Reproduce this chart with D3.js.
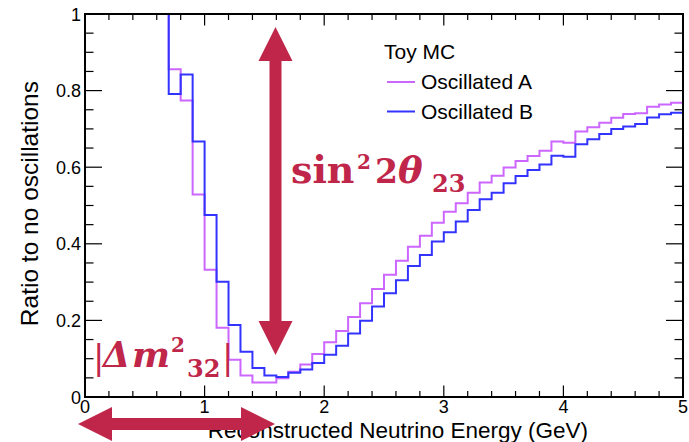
<!DOCTYPE html>
<html>
<head>
<meta charset="utf-8">
<script src="https://cdn.jsdelivr.net/npm/d3@7/dist/d3.min.js"></script>
<style>
  html, body { margin: 0; padding: 0; background: #fff; }
  svg { display: block; }
</style>
</head>
<body>
<svg id="chart" width="689" height="442"></svg>
<script>
// ---- data ----
const binWidth = 0.1;
const nBins = 50;
const xTicks = [0, 1, 2, 3, 4, 5];
const yTicks = [0, 0.2, 0.4, 0.6, 0.8, 1];
const seriesNames = ["Oscillated A", "Oscillated B"];
const legendHeader = "Toy MC";
// Ratio to no oscillations per 0.1 GeV bin (bins 0-6 exceed the frame)
const oscA = [1.60, 1.50, 1.40, 1.35, 1.30, 1.20, 1.10, 0.856, 0.774, 0.529,
              0.332, 0.181, 0.097, 0.056, 0.038, 0.038, 0.049, 0.066, 0.085, 0.112,
              0.143, 0.172, 0.209, 0.245, 0.282, 0.319, 0.356, 0.392, 0.421, 0.455,
              0.484, 0.506, 0.533, 0.560, 0.578, 0.599, 0.616, 0.629, 0.643, 0.667,
              0.664, 0.693, 0.704, 0.716, 0.729, 0.739, 0.741, 0.758, 0.764, 0.768];
const oscB = [1.60, 1.50, 1.40, 1.35, 1.30, 1.20, 1.10, 0.791, 0.842, 0.667,
              0.475, 0.301, 0.188, 0.118, 0.076, 0.056, 0.052, 0.063, 0.072, 0.089,
              0.110, 0.134, 0.166, 0.199, 0.236, 0.271, 0.305, 0.342, 0.371, 0.406,
              0.430, 0.458, 0.488, 0.516, 0.533, 0.558, 0.577, 0.593, 0.607, 0.630,
              0.627, 0.660, 0.673, 0.687, 0.700, 0.706, 0.713, 0.730, 0.738, 0.742];
const colors = ["#cc66ff", "#3333ff"];
const annotColor = "#bf2649";

// ---- layout ----
const svg = d3.select("#chart");
const L = 85, R = 683, T = 14, B = 397;
const x = d3.scaleLinear().domain([0, 5]).range([L, R]);
const y = d3.scaleLinear().domain([0, 1]).range([B, T]).clamp(true);
const sans = "'Liberation Sans', Arial, Helvetica, sans-serif";
const serif = "'DejaVu Serif', serif";

svg.append("defs").append("clipPath").attr("id", "clip")
  .append("rect").attr("x", L).attr("y", T - 1).attr("width", R - L).attr("height", B - T + 1);

// ---- histograms ----
function stepPoints(vals) {
  const pts = vals.map((v, i) => [i * binWidth, v]);
  pts.push([nBins * binWidth, vals[vals.length - 1]]);
  return pts;
}
const line = d3.line().x(d => x(d[0])).y(d => y(d[1])).curve(d3.curveStepAfter);
const gH = svg.append("g").attr("clip-path", "url(#clip)");
[oscA, oscB].forEach((vals, k) => {
  gH.append("path").attr("d", line(stepPoints(vals)))
    .attr("fill", "none").attr("stroke", colors[k]).attr("stroke-width", 2);
});

// ---- axes (ROOT style, ticks inside on all four sides) ----
const xMinor = d3.range(0, 5.0001, 0.2);
const yMinor = d3.range(0, 1.0001, 0.05);
const gT = svg.append("g").attr("stroke", "#000").attr("stroke-width", 1.2);
xMinor.forEach(v => {
  const major = Math.abs(v - Math.round(v)) < 1e-6;
  const len = major ? 11.5 : 6;
  gT.append("line").attr("x1", x(v)).attr("x2", x(v)).attr("y1", B).attr("y2", B - len);
  gT.append("line").attr("x1", x(v)).attr("x2", x(v)).attr("y1", T).attr("y2", T + len);
});
yMinor.forEach(v => {
  const major = Math.abs(v * 5 - Math.round(v * 5)) < 1e-6;
  const len = major ? 17 : 8.5;
  gT.append("line").attr("y1", y(v)).attr("y2", y(v)).attr("x1", L).attr("x2", L + len);
  gT.append("line").attr("y1", y(v)).attr("y2", y(v)).attr("x1", R).attr("x2", R - len);
});
svg.append("rect").attr("x", L).attr("y", T).attr("width", R - L).attr("height", B - T)
  .attr("fill", "none").attr("stroke", "#000").attr("stroke-width", 2);

const fmt = d3.format("~g");
svg.append("g").selectAll("text").data(yTicks).join("text")
  .attr("x", L - 4).attr("y", d => y(d) + 6.5)
  .attr("text-anchor", "end").attr("font-family", sans).attr("font-size", 18)
  .text(d => fmt(d));
svg.append("g").selectAll("text").data(xTicks).join("text")
  .attr("x", d => x(d)).attr("y", 412.5)
  .attr("text-anchor", "middle").attr("font-family", sans).attr("font-size", 18)
  .text(d => fmt(d));

svg.append("text").attr("x", 588).attr("y", 438).attr("text-anchor", "end")
  .attr("font-family", sans).attr("font-size", 22.5)
  .text("Reconstructed Neutrino Energy (GeV)");
svg.append("text").attr("transform", "translate(38,81) rotate(-90)").attr("text-anchor", "end")
  .attr("font-family", sans).attr("font-size", 24.5)
  .text("Ratio to no oscillations");

// ---- legend ----
const lg = svg.append("g").attr("font-family", sans).attr("font-size", 21);
lg.append("text").attr("x", 384).attr("y", 59).text(legendHeader);
seriesNames.forEach((n, k) => {
  const yy = 82 + k * 29.5;
  lg.append("line").attr("x1", 387).attr("x2", 415).attr("y1", yy).attr("y2", yy)
    .attr("stroke", colors[k]).attr("stroke-width", 2);
  lg.append("text").attr("x", 421).attr("y", yy + 7).text(n);
});

// ---- annotations ----
function doubleArrow(x1, y1, x2, y2, sw, hw, hl) {
  const dx = x2 - x1, dy = y2 - y1, len = Math.hypot(dx, dy);
  const ux = dx / len, uy = dy / len, nx = -uy, ny = ux;
  const p = (a, b) => [x1 + ux * a + nx * b, y1 + uy * a + ny * b];
  const pts = [p(0, 0), p(hl, hw / 2), p(hl, sw / 2), p(len - hl, sw / 2), p(len - hl, hw / 2),
               p(len, 0), p(len - hl, -hw / 2), p(len - hl, -sw / 2), p(hl, -sw / 2), p(hl, -hw / 2)];
  return "M" + pts.map(q => q.join(",")).join("L") + "Z";
}
const ga = svg.append("g").attr("fill", annotColor);
ga.append("path").attr("d", doubleArrow(275.5, 27, 275.5, 355, 12, 34, 34));
ga.append("path").attr("d", doubleArrow(78, 424, 275, 424, 12, 34, 34));

const gt = svg.append("g").attr("fill", annotColor).attr("font-family", serif).attr("font-weight", "bold");
gt.append("text").attr("x", 291).attr("y", 183).attr("font-size", 38).text("sin");
gt.append("text").attr("x", 357).attr("y", 169).attr("font-size", 20).text("2");
gt.append("text").attr("x", 375).attr("y", 183).attr("font-size", 33).text("2");
gt.append("text").attr("x", 398).attr("y", 183).attr("font-size", 37).attr("font-style", "italic").text("θ");
gt.append("text").attr("x", 432).attr("y", 192).attr("font-size", 24).text("23");

gt.append("text").attr("x", 93).attr("y", 369).attr("font-size", 34).attr("font-weight", "normal").text("|");
gt.append("text").attr("x", 103).attr("y", 367).attr("font-size", 35).attr("font-style", "italic").text("Δ");
gt.append("text").attr("x", 132).attr("y", 367).attr("font-size", 36).attr("font-style", "italic").text("m");
gt.append("text").attr("x", 171).attr("y", 352).attr("font-size", 20).text("2");
gt.append("text").attr("x", 187).attr("y", 377).attr("font-size", 24).text("32");
gt.append("text").attr("x", 222).attr("y", 369).attr("font-size", 34).attr("font-weight", "normal").text("|");
</script>
</body>
</html>
